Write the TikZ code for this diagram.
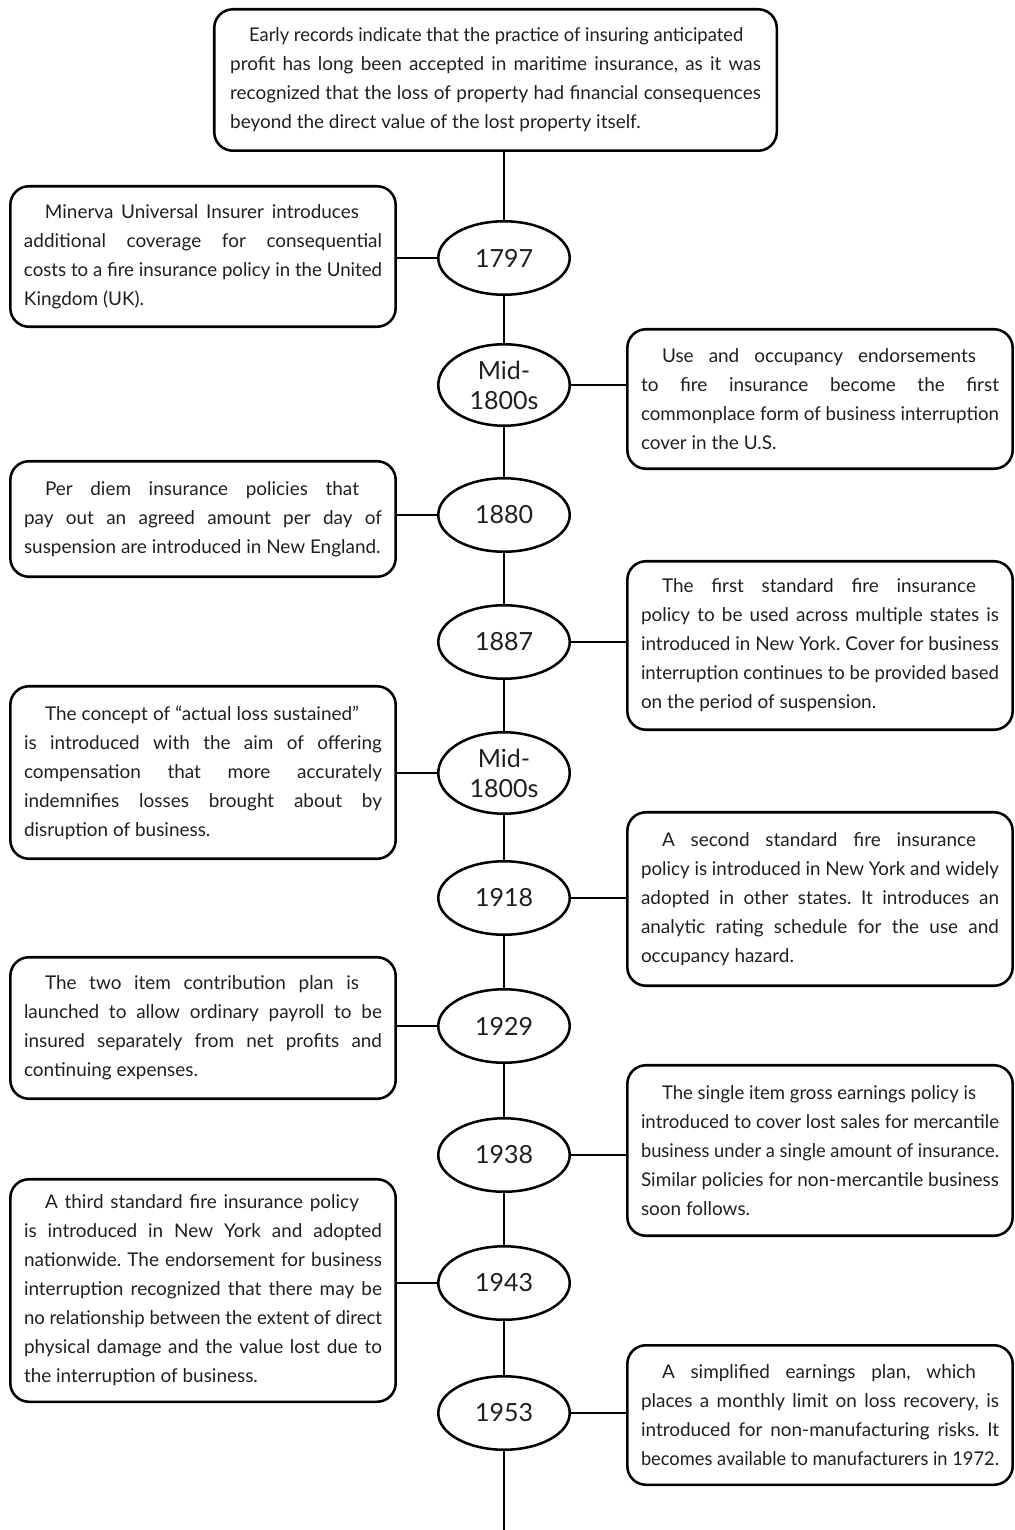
\documentclass[tikz,border=0pt]{standalone}
\usepackage{fontspec}
\setmainfont{Lato}
\usepackage{graphicx}
\usetikzlibrary{shapes.geometric}
\frenchspacing
\newlength\jlw
\newlength\bodyw \setlength\bodyw{268.5pt}
\newlength\firstw \setlength\firstw{235.5pt}
\newlength\topw \setlength\topw{398pt}
\newcommand\jfit[2]{\settowidth\jlw{#2}%
  \ifdim\jlw>#1\relax\pgfmathsetmacro\jlr{#1/\jlw}\scalebox{\jlr}[1]{#2}%
  \else\makebox[#1][s]{#2}\fi}
\newcommand\jnat[2]{\settowidth\jlw{#2}%
  \ifdim\jlw>#1\relax\pgfmathsetmacro\jlr{#1/\jlw}\scalebox{\jlr}[1]{#2}%
  \else\makebox[#1][l]{#2}\fi}
\newcommand\tlFirst[1]{\hspace*{15.75pt}\jfit{\firstw}{#1}}
\newcommand\tlMid[1]{\jfit{\bodyw}{#1}}
\newcommand\tlLast[1]{\jnat{\bodyw}{#1}}
\begin{document}
\begin{tikzpicture}[x=0.75pt,y=-0.75pt,
  evt/.style={draw, line width=1.9pt, rounded corners=14pt, inner sep=0pt, align=left,
    text=black!88, font=\fontsize{14.2pt}{21.75pt}\selectfont, minimum width=289pt},
  yr/.style={draw, ellipse, line width=1.9pt, inner sep=0pt, align=center, text=black!88,
    font=\fontsize{18.75pt}{22.5pt}\selectfont, minimum width=98.6pt, minimum height=55.1pt},
  yrmid/.style={yr, minimum height=61.1pt},
  conn/.style={line width=1.9pt}]
\useasboundingbox (0,0) rectangle (1014,1530);

\node[evt, minimum width=421.9pt, minimum height=106.1pt] (top) at (495.5,80) {%
\hspace*{14.25pt}\jnat{370.5pt}{Early records indicate that the practice of insuring anticipated}\\
\jfit{\topw}{profit has long been accepted in maritime insurance, as it was}\\
\jfit{\topw}{recognized that the loss of property had financial consequences}\\
\jnat{\topw}{beyond the direct value of the lost property itself.}};

% years
\node[yr] (e1) at (504,258) {1797};
\node[yrmid] (e2) at (504,385) {Mid-\\1800s};
\node[yr] (e3) at (504,515) {1880};
\node[yr] (e4) at (504,642) {1887};
\node[yrmid] (e5) at (504,773) {Mid-\\1800s};
\node[yr] (e6) at (504,898) {1918};
\node[yr] (e7) at (504,1026) {1929};
\node[yr] (e8) at (504,1155) {1938};
\node[yr] (e9) at (504,1283) {1943};
\node[yr] (e10) at (504,1413) {1953};
\coordinate (endc) at (504,1530);

% events
\node[evt, minimum height={140.5*0.75pt}] (b1) at (203,256.5) {%
\tlFirst{Minerva Universal Insurer introduces}\\
\tlMid{additional coverage for consequential}\\
\tlMid{costs to a fire insurance policy in the United}\\
\tlLast{Kingdom (UK).}};

\node[evt, minimum height={139.5*0.75pt}] (b2) at (820,399) {%
\tlFirst{Use and occupancy endorsements}\\
\tlMid{to fire insurance become the first}\\
\tlMid{commonplace form of business interruption}\\
\tlLast{cover in the U.S.}};

\node[evt, minimum height={115.5*0.75pt}] (b3) at (203,519) {%
\tlFirst{Per diem insurance policies that}\\
\tlMid{pay out an agreed amount per day of}\\
\tlLast{suspension are introduced in New England.}};

\node[evt, minimum height={168.5*0.75pt}] (b4) at (820,645.5) {%
\tlFirst{The first standard fire insurance}\\
\tlMid{policy to be used across multiple states is}\\
\tlMid{introduced in New York. Cover for business}\\
\tlMid{interruption continues to be provided based}\\
\tlLast{on the period of suspension.}};

\node[evt, minimum height={172.5*0.75pt}] (b5) at (203,772.5) {%
\tlFirst{The concept of “actual loss sustained”}\\
\tlMid{is introduced with the aim of offering}\\
\tlMid{compensation that more accurately}\\
\tlMid{indemnifies losses brought about by}\\
\tlLast{disruption of business.}};

\node[evt, minimum height={173.5*0.75pt}] (b6) at (820,899) {%
\tlFirst{A second standard fire insurance}\\
\tlMid{policy is introduced in New York and widely}\\
\tlMid{adopted in other states. It introduces an}\\
\tlMid{analytic rating schedule for the use and}\\
\tlLast{occupancy hazard.}};

\node[evt, minimum height={141.5*0.75pt}] (b7) at (203,1028) {%
\tlFirst{The two item contribution plan is}\\
\tlMid{launched to allow ordinary payroll to be}\\
\tlMid{insured separately from net profits and}\\
\tlLast{continuing expenses.}};

\node[evt, minimum height={170.5*0.75pt}] (b8) at (820,1150.5) {%
\tlFirst{The single item gross earnings policy is}\\
\tlMid{introduced to cover lost sales for mercantile}\\
\tlMid{business under a single amount of insurance.}\\
\tlMid{Similar policies for non-mercantile business}\\
\tlLast{soon follows.}};

\node[evt, minimum height={222.5*0.75pt}] (b9) at (203,1290.5) {%
\tlFirst{A third standard fire insurance policy}\\
\tlMid{is introduced in New York and adopted}\\
\tlMid{nationwide. The endorsement for business}\\
\tlMid{interruption recognized that there may be}\\
\tlMid{no relationship between the extent of direct}\\
\tlMid{physical damage and the value lost due to}\\
\tlLast{the interruption of business.}};

\node[evt, minimum height={139.5*0.75pt}] (b10) at (820,1415) {%
\tlFirst{A simplified earnings plan, which}\\
\tlMid{places a monthly limit on loss recovery, is}\\
\tlMid{introduced for non-manufacturing risks. It}\\
\tlLast{becomes available to manufacturers in 1972.}};

% spine
\draw[conn] (e1.north |- top.south) -- (e1.north);
\draw[conn] (e1.south) -- (e2.north);
\draw[conn] (e2.south) -- (e3.north);
\draw[conn] (e3.south) -- (e4.north);
\draw[conn] (e4.south) -- (e5.north);
\draw[conn] (e5.south) -- (e6.north);
\draw[conn] (e6.south) -- (e7.north);
\draw[conn] (e7.south) -- (e8.north);
\draw[conn] (e8.south) -- (e9.north);
\draw[conn] (e9.south) -- (e10.north);
\draw[conn] (e10.south) -- (endc);

% branches
\draw[conn] (e1.west) -- (e1.west -| b1.east);
\draw[conn] (e2.east) -- (e2.east -| b2.west);
\draw[conn] (e3.west) -- (e3.west -| b3.east);
\draw[conn] (e4.east) -- (e4.east -| b4.west);
\draw[conn] (e5.west) -- (e5.west -| b5.east);
\draw[conn] (e6.east) -- (e6.east -| b6.west);
\draw[conn] (e7.west) -- (e7.west -| b7.east);
\draw[conn] (e8.east) -- (e8.east -| b8.west);
\draw[conn] (e9.west) -- (e9.west -| b9.east);
\draw[conn] (e10.east) -- (e10.east -| b10.west);
\end{tikzpicture}
\end{document}
